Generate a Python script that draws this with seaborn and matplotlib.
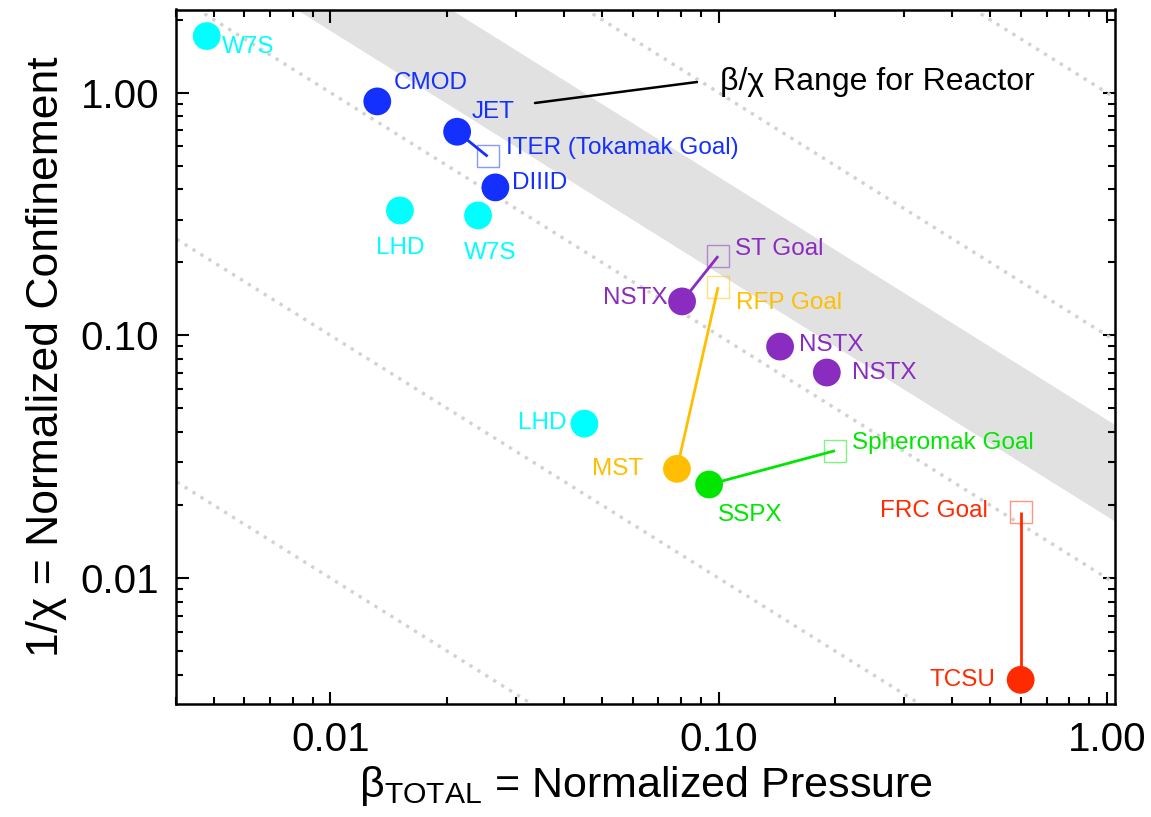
import numpy as np
import pandas as pd
import matplotlib
matplotlib.use("Agg")
import matplotlib.pyplot as plt
import matplotlib.ticker as mticker
import seaborn as sns

# ---------------- data ----------------
devices = ["W7S", "CMOD", "JET", "DIIID", "LHD", "W7S", "NSTX", "NSTX", "NSTX",
           "LHD", "MST", "SSPX", "TCSU"]
beta = [0.0048, 0.0132, 0.0212, 0.0266, 0.0151, 0.0240, 0.0805, 0.144, 0.190,
        0.0451, 0.0781, 0.0945, 0.60]
confinement = [1.71, 0.92, 0.69, 0.407, 0.327, 0.312, 0.138, 0.0899, 0.0703,
               0.0433, 0.0282, 0.0243, 0.00381]
family = ["Stellarator", "Tokamak", "Tokamak", "Tokamak", "Stellarator", "Stellarator",
          "ST", "ST", "ST", "Stellarator", "RFP", "Spheromak", "FRC"]

goals = ["ITER (Tokamak Goal)", "ST Goal", "RFP Goal", "Spheromak Goal", "FRC Goal"]
goal_beta = [0.0254, 0.0997, 0.0997, 0.1995, 0.60]
goal_conf = [0.546, 0.212, 0.158, 0.0335, 0.01876]
goal_family = ["Tokamak", "ST", "RFP", "Spheromak", "FRC"]
goal_source = [2, 6, 10, 11, 12]   # index of the device each goal is linked to

reactor_band = [0.018, 0.045]                  # beta/chi range for reactor
iso_lines = [1e-4, 1e-3, 1e-2, 1e-1, 1.0]      # constant beta/chi guide lines

# ---------------- styles ----------------
palette = {"Stellarator": "#00ffff", "Tokamak": "#1430ff", "ST": "#8a2cc0",
           "RFP": "#ffbf00", "Spheromak": "#00e600", "FRC": "#ff2a00"}

# label offsets in pixels (dx, dy, ha)
dev_label_pos = [(15, -11, "left"), (16, 18, "left"), (15, 20, "left"), (17, 4, "left"),
                 (0, -38, "center"), (12, -38, "center"), (-15, 3, "right"),
                 (19, 2, "left"), (25, 0, "left"), (-18, 1, "right"),
                 (-34, 0, "right"), (9, -30, "left"), (-25, 0, "right")]
goal_label_pos = [(18, 8, "left"), (17, 7, "left"), (18, -16, "left"),
                  (17, 8, "left"), (-33, 1, "right")]

sns.set_style("ticks")
plt.rcParams["font.family"] = ["Liberation Sans", "DejaVu Sans"]
plt.rcParams["mathtext.fontset"] = "custom"
plt.rcParams["mathtext.rm"] = "Liberation Sans"
plt.rcParams["mathtext.it"] = "Liberation Sans:italic"
plt.rcParams["text.color"] = "black"
plt.rcParams["axes.labelcolor"] = "black"
plt.rcParams["xtick.color"] = "black"
plt.rcParams["ytick.color"] = "black"

fig = plt.figure(figsize=(11.51, 8.17), dpi=100)
ax = fig.add_axes([176 / 1151, 1 - 704 / 817, (1115 - 176) / 1151, (704 - 9.5) / 817])
ax.set_xscale("log")
ax.set_yscale("log")
xlim = (0.004, 1.05)
ylim = (0.00303, 2.2)

# reactor band
xs = np.logspace(np.log10(xlim[0]) - 0.1, np.log10(xlim[1]) + 0.1, 200)
ax.fill_between(xs, reactor_band[0] / xs, reactor_band[1] / xs, color="#e1e1e1",
                lw=0, zorder=0)
# iso lines
for c in iso_lines:
    ax.plot(xs, c / xs, color="#d2d2d2", lw=2.4, ls=(0, (1, 1.8)), zorder=1)

# goal connectors and squares
for gi in range(len(goals)):
    si = goal_source[gi]
    col = palette[goal_family[gi]]
    ax.plot([beta[si], goal_beta[gi]], [confinement[si], goal_conf[gi]],
            color=col, lw=2.0, zorder=3, solid_capstyle="butt")
    ax.plot([goal_beta[gi]], [goal_conf[gi]], marker="s", ms=16.5, mfc="none",
            mec=col, mew=1.0, alpha=0.5, zorder=2, ls="none")

df = pd.DataFrame({"beta": beta, "conf": confinement, "family": family})
sns.scatterplot(data=df, x="beta", y="conf", hue="family", palette=palette,
                s=400, edgecolor="none", linewidth=0, legend=False, ax=ax, zorder=4)

# labels
for i, name in enumerate(devices):
    dx, dy, ha = dev_label_pos[i]
    ax.annotate(name, (beta[i], confinement[i]), xytext=(dx, dy),
                textcoords="offset pixels", ha=ha, va="center",
                color=palette[family[i]], fontsize=17.5, zorder=5)
for gi, name in enumerate(goals):
    dx, dy, ha = goal_label_pos[gi]
    ax.annotate(name, (goal_beta[gi], goal_conf[gi]), xytext=(dx, dy),
                textcoords="offset pixels", ha=ha, va="center",
                color=palette[goal_family[gi]], fontsize=17.5, zorder=5)

# band annotation
fig.add_artist(plt.Line2D([535 / 1151, 697 / 1151], [1 - 103 / 817, 1 - 82 / 817],
                          color="black", lw=1.8, transform=fig.transFigure))
fig.text(720 / 1151, 1 - 82 / 817, "β/χ Range for Reactor", fontsize=23,
         va="center", ha="left", color="black")

ax.set_xlim(*xlim)
ax.set_ylim(*ylim)

fmt = mticker.FuncFormatter(lambda v, p: f"{v:.2f}")
for axis in (ax.xaxis, ax.yaxis):
    axis.set_major_locator(mticker.LogLocator(base=10, numticks=10))
    axis.set_minor_locator(mticker.LogLocator(base=10, subs=np.arange(2, 10), numticks=20))
    axis.set_major_formatter(fmt)
    axis.set_minor_formatter(mticker.NullFormatter())

ax.tick_params(which="both", direction="in", top=True, right=True, width=1.5,
               labelsize=29, color="black", labelcolor="black")
ax.tick_params(which="major", length=9, pad=12)
ax.tick_params(which="minor", length=5)
for sp in ax.spines.values():
    sp.set_linewidth(1.8)
    sp.set_color("black")

ax.set_xlabel(r"β$_{\mathrm{TOTAL}}$ = Normalized Pressure", fontsize=31, labelpad=4,
              color="black")
ax.set_ylabel("1/χ = Normalized Confinement", fontsize=32, labelpad=10, color="black")

fig.savefig("out.png", dpi=100)
